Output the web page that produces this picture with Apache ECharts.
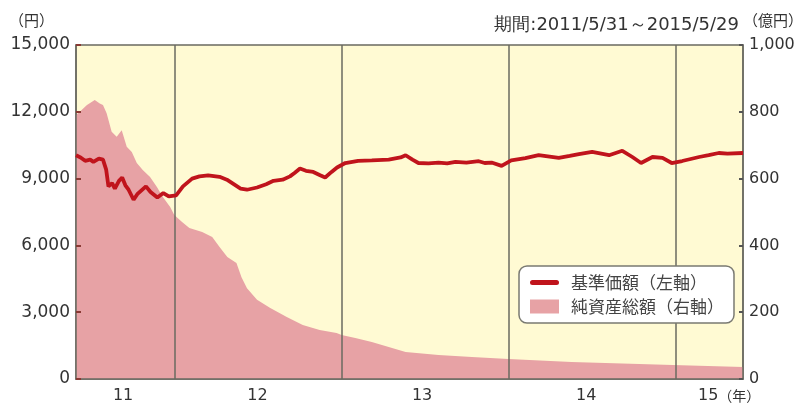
<!DOCTYPE html>
<html>
<head>
<meta charset="utf-8">
<script src="https://cdn.jsdelivr.net/npm/echarts@6/dist/echarts.min.js"></script>
<style>
html,body{margin:0;padding:0;background:#fff;}
#c{width:806px;height:408px;}
</style>
</head>
<body>
<div id="c"></div>
<script>
// ---- data ----
var navDates = ['2011-05-31','2011-06-10','2011-06-20','2011-07-01','2011-07-08','2011-07-20','2011-07-29','2011-08-05','2011-08-10','2011-08-18','2011-08-24','2011-09-02','2011-09-09','2011-09-16','2011-09-23','2011-10-04','2011-10-12','2011-10-20','2011-10-31','2011-11-10','2011-11-25','2011-12-08','2011-12-20','2012-01-05','2012-01-20','2012-02-09','2012-02-25','2012-03-15','2012-04-09','2012-04-25','2012-05-10','2012-05-25','2012-06-08','2012-06-30','2012-07-20','2012-08-05','2012-08-25','2012-09-10','2012-09-20','2012-10-02','2012-10-15','2012-10-31','2012-11-15','2012-11-26','2012-12-10','2012-12-22','2013-01-09','2013-02-06','2013-03-08','2013-04-14','2013-05-10','2013-05-21','2013-06-05','2013-06-18','2013-07-10','2013-08-01','2013-08-20','2013-09-07','2013-10-01','2013-10-28','2013-11-10','2013-11-25','2013-12-17','2014-01-07','2014-02-07','2014-03-08','2014-04-21','2014-05-15','2014-06-04','2014-07-03','2014-08-09','2014-09-07','2014-09-29','2014-10-18','2014-11-12','2014-12-04','2014-12-24','2015-01-16','2015-02-22','2015-03-15','2015-04-06','2015-04-25','2015-05-29'];
var navValues = [10050,9950,9800,9850,9750,9900,9850,9400,8650,8800,8550,8900,9050,8700,8500,8050,8300,8450,8650,8400,8150,8350,8200,8250,8650,9000,9100,9150,9080,8950,8750,8550,8500,8600,8750,8900,8950,9100,9250,9450,9350,9300,9150,9050,9300,9500,9700,9800,9820,9850,9950,10050,9850,9700,9680,9720,9680,9750,9720,9780,9700,9720,9570,9820,9920,10050,9930,10020,10100,10200,10050,10250,9970,9700,9970,9930,9700,9790,9970,10050,10150,10120,10150];

var assetDates = ['2011-05-31','2011-06-24','2011-07-11','2011-07-22','2011-07-29','2011-08-06','2011-08-17','2011-08-28','2011-09-08','2011-09-19','2011-09-30','2011-10-11','2011-10-24','2011-11-09','2011-11-24','2011-12-07','2011-12-23','2012-01-01','2012-01-18','2012-02-03','2012-03-02','2012-03-24','2012-04-09','2012-04-26','2012-05-16','2012-05-27','2012-06-08','2012-06-30','2012-07-28','2012-09-03','2012-10-08','2012-11-14','2012-12-21','2013-01-01','2013-01-31','2013-03-08','2013-05-21','2013-08-01','2013-10-13','2014-01-01','2014-05-19','2014-10-14','2014-12-26','2015-05-29'];
var assetValues = [790,820,835,825,820,796,740,725,745,695,680,647,626,605,575,545,515,491,470,452,440,425,395,365,347,305,272,237,213,186,162,147,138,132,123,111,81,72,66,60,51,45,42,36];

var yearBoundaries = ['2012-01-01','2013-01-01','2014-01-01','2015-01-01'];
var yearLabelDates = ['2011-09-11','2012-07-01','2013-06-26','2014-06-20','2015-03-16'];
var yearLabels = ['11','12','13','14','15'];

var seriesNames = ['基準価額（左軸）','純資産総額（右軸）'];
var periodText = '期間:2011/5/31～2015/5/29';

function ts(s){ var p=s.split('-'); return new Date(+p[0], +p[1]-1, +p[2]).getTime(); }

var navData = navDates.map(function(d,i){ return [ts(d), navValues[i]]; });
var assetData = assetDates.map(function(d,i){ return [ts(d), assetValues[i]]; });
var labelTs = yearLabelDates.map(ts);

var FONT = 'DejaVu Sans';
var CJK = 'Noto Sans CJK JP';
var chart = echarts.init(document.getElementById('c'));
chart.setOption({
  animation:false,
  title:{ text:periodText, right:67, top:16, padding:0, textStyle:{fontFamily:FONT, fontSize:18, fontWeight:'normal', color:'#333'} },
  grid:{ left:76, right:63, top:45, bottom:29, show:true, backgroundColor:'#FFFAD3', borderColor:'#6a6a60', borderWidth:1.5 },
  legend:{
    left:519, top:266, orient:'vertical', itemGap:7, itemWidth:29, itemHeight:14,
    backgroundColor:'#fff', borderColor:'#7a7a72', borderWidth:1.5, borderRadius:8, padding:[8,10,8,11],
    textStyle:{fontFamily:CJK, fontSize:17, color:'#444', padding:[0,0,0,7]},
    data:[
      {name:seriesNames[0], icon:'path://M2.5,0H26.5A2.5,2.5 0 0 1 26.5,5H2.5A2.5,2.5 0 0 1 2.5,0Z'},
      {name:seriesNames[1], icon:'rect'}
    ]
  },
  xAxis:{
    type:'value', min:ts('2011-05-31'), max:ts('2015-05-29'), z:3,
    axisLine:{show:true, lineStyle:{color:'#6a6a60', width:1.5}},
    axisTick:{show:false, customValues:yearBoundaries.map(ts)},
    splitLine:{show:true, lineStyle:{color:'#6a6a60', width:1.5}},
    axisLabel:{
      customValues:labelTs, margin:9, fontFamily:FONT, fontSize:16, color:'#333',
      formatter:function(v){
        var best=0; for(var k=0;k<labelTs.length;k++){ if(Math.abs(labelTs[k]-v)<Math.abs(labelTs[best]-v)) best=k; }
        if(best===yearLabels.length-1) return '{pad|}'+yearLabels[best]+'{u|（年）}';
        return yearLabels[best];
      },
      rich:{ pad:{width:40}, u:{fontFamily:CJK, fontSize:14, color:'#333', padding:[0,0,0,0]} }
    }
  },
  yAxis:[{
    type:'value', min:0, max:15000, interval:3000, z:3,
    name:'（円）', nameGap:17, nameTextStyle:{fontFamily:CJK, fontSize:15, color:'#333', align:'right', padding:[0,22,0,0]},
    axisLine:{show:true, lineStyle:{color:'#6a6a60', width:1.5}},
    axisTick:{show:true, inside:true, length:5, lineStyle:{color:'#8a3a34', width:2}},
    splitLine:{show:false},
    axisLabel:{margin:6, fontFamily:FONT, fontSize:17, color:'#333', formatter:function(v){ return echarts.format.addCommas(v); }}
  },{
    type:'value', min:0, max:1000, interval:200, z:3,
    name:'（億円）', nameGap:17, nameTextStyle:{fontFamily:CJK, fontSize:15, color:'#333', align:'left', padding:[0,0,0,0]},
    axisLine:{show:true, lineStyle:{color:'#6a6a60', width:1.5}},
    axisTick:{show:true, inside:true, length:4, lineStyle:{color:'#555', width:2}},
    splitLine:{show:false},
    axisLabel:{margin:6, fontFamily:FONT, fontSize:16, color:'#333', formatter:function(v){ return echarts.format.addCommas(v); }}
  }],
  series:[{
    name:seriesNames[0], type:'line', yAxisIndex:0, data:navData, z:5,
    showSymbol:false, symbol:'none', smooth:false,
    lineStyle:{color:'#C0141C', width:3.8}, itemStyle:{color:'#C0141C'}
  },{
    name:seriesNames[1], type:'line', yAxisIndex:1, data:assetData, z:2,
    showSymbol:false, symbol:'none',
    lineStyle:{width:0}, itemStyle:{color:'#E7A2A5'},
    areaStyle:{color:'#E7A2A5', opacity:1}
  }]
});
</script>
</body>
</html>
